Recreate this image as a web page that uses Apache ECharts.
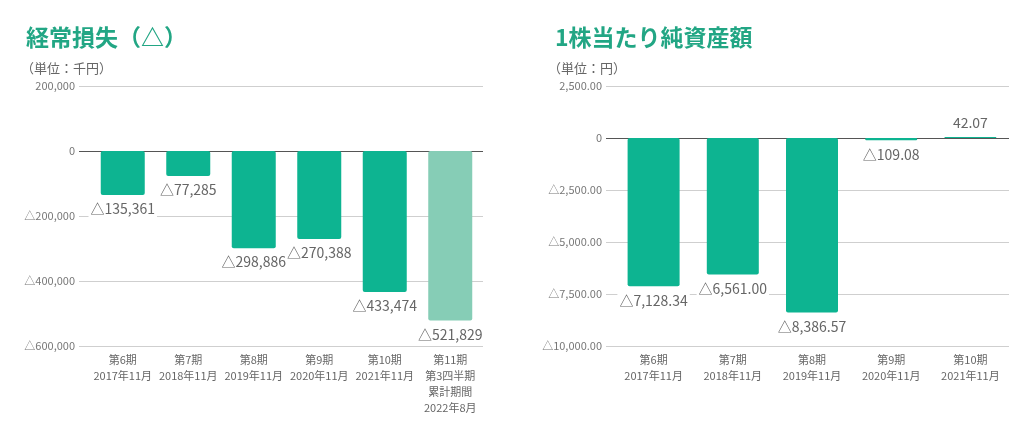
<!DOCTYPE html>
<html>
<head>
<meta charset="utf-8">
<script src="https://cdn.jsdelivr.net/npm/echarts@6/dist/echarts.min.js"></script>
<style>
  html, body { margin: 0; padding: 0; background: #fff; }
  #main { width: 1024px; height: 427px; }
</style>
</head>
<body>
<div id="main"></div>
<script>
// 経常損失（千円）
let lossCats = ['第6期\n2017年11月', '第7期\n2018年11月', '第8期\n2019年11月', '第9期\n2020年11月', '第10期\n2021年11月', '第11期\n第3四半期\n累計期間\n2022年8月'];
let lossValues = [-135361, -77285, -298886, -270388, -433474, -521829];
// 1株当たり純資産額（円）
let navCats = ['第6期\n2017年11月', '第7期\n2018年11月', '第8期\n2019年11月', '第9期\n2020年11月', '第10期\n2021年11月'];
let navValues = [-7128.34, -6561.00, -8386.57, -109.08, 42.07];

let green = '#0db491';
let lightGreen = '#86cdb6';
let font = '"Noto Sans CJK JP", "Noto Sans", sans-serif';

let tri = function (v, dec) {
  let s = Math.abs(v).toLocaleString('en-US', {minimumFractionDigits: dec, maximumFractionDigits: dec});
  return v < 0 ? '△' + s : s;
};

let chart = echarts.init(document.getElementById('main'), null, {renderer: 'canvas'});

let valueAxis = function (grid, min, max, interval, zeroIdx, dec, show) {
  let colors = [];
  for (let i = 0; i <= (max - min) / interval; i++) colors.push(i === zeroIdx ? '#555' : '#cfcfcf');
  return {
    type: 'value', gridIndex: grid, min: min, max: max, interval: interval, show: show,
    axisLine: {show: false}, axisTick: {show: false},
    axisLabel: {
      margin: 4, color: '#777', fontSize: 11, fontFamily: font,
      formatter: function (v) { return v === 0 ? '0' : tri(v, dec); }
    },
    splitLine: {show: show, lineStyle: {color: colors, width: 1}}
  };
};

let catAxis = function (grid, data) {
  return {
    type: 'category', gridIndex: grid, data: data,
    axisLine: {show: false}, axisTick: {show: false},
    axisLabel: {margin: 6, color: '#666', fontSize: 11, lineHeight: 16, fontFamily: font, interval: 0}
  };
};

let barLabel = function (dec) {
  return {
    show: true, distance: 6, color: '#666', fontSize: 14, fontFamily: font,
    backgroundColor: '#fff', padding: [1, 2],
    position: 'bottom',
    formatter: function (p) { return tri(p.value, dec); }
  };
};

chart.setOption({
  backgroundColor: '#fff',
  animation: false,
  title: [
    {text: '経常損失（△）', left: 21, top: 21, textStyle: {color: '#22a684', fontSize: 23, fontWeight: 'bold', fontFamily: font}},
    {text: '（単位：千円）', left: 16, top: 57, textStyle: {color: '#666', fontSize: 13, fontWeight: 'normal', fontFamily: font}},
    {text: '1株当たり純資産額', left: 550, top: 21, textStyle: {color: '#22a684', fontSize: 23, fontWeight: 'bold', fontFamily: font}},
    {text: '（単位：円）', left: 543, top: 57, textStyle: {color: '#666', fontSize: 13, fontWeight: 'normal', fontFamily: font}}
  ],
  grid: [
    {left: 79, right: 541, top: 86, height: 260},
    {left: 90, right: 541, top: 86, height: 260},
    {left: 606, right: 15, top: 86, height: 260},
    {left: 614, right: 14, top: 86, height: 260}
  ],
  xAxis: [
    {type: 'value', gridIndex: 0, show: false},
    catAxis(1, lossCats),
    {type: 'value', gridIndex: 2, show: false},
    catAxis(3, navCats)
  ],
  yAxis: [
    valueAxis(0, -600000, 200000, 200000, 3, 0, true),
    valueAxis(1, -600000, 200000, 200000, 3, 0, false),
    valueAxis(2, -10000, 2500, 2500, 4, 2, true),
    valueAxis(3, -10000, 2500, 2500, 4, 2, false)
  ],
  series: [
    {
      type: 'bar', xAxisIndex: 1, yAxisIndex: 1, barWidth: 44,
      data: lossValues.map(function (v, i) {
        return {value: v, itemStyle: {color: i === lossValues.length - 1 ? lightGreen : green, borderRadius: 2}};
      }),
      label: barLabel(0)
    },
    {
      type: 'bar', xAxisIndex: 3, yAxisIndex: 3, barWidth: 52,
      data: navValues.map(function (v) {
        return {value: v, itemStyle: {color: green, borderRadius: 2}, label: {position: v < 0 ? 'bottom' : 'top'}};
      }),
      label: barLabel(2)
    }
  ]
});
</script>
</body>
</html>
